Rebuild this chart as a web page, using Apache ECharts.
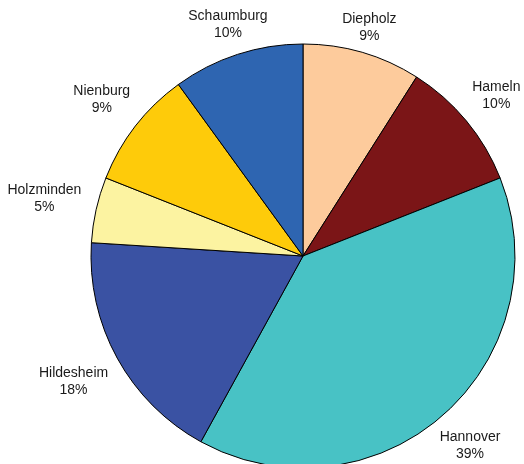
<!DOCTYPE html>
<html>
<head>
<meta charset="utf-8">
<script src="https://cdn.jsdelivr.net/npm/echarts@6/dist/echarts.min.js"></script>
<style>
  html, body { margin: 0; padding: 0; background: #ffffff; }
  #chart { width: 524px; height: 464px; }
</style>
</head>
<body>
<div id="chart"></div>
<script>
// District shares (percent), clockwise from 12 o'clock
const districts = ['Diepholz', 'Hameln', 'Hannover', 'Hildesheim', 'Holzminden', 'Nienburg', 'Schaumburg'];
const shares = [9, 10, 39, 18, 5, 9, 10];
const colors = ['#FDCB9C', '#7B1517', '#48C2C5', '#3A52A3', '#FCF3A1', '#FECB0A', '#2E65B1'];

const center = [303, 256];
const radius = 212;

// mid-angle of each slice, radians clockwise from 12 o'clock
const total = shares.reduce((a, b) => a + b, 0);
const midAngles = [];
let acc = 0;
shares.forEach(v => {
  midAngles.push((acc + v / 2) / total * 2 * Math.PI);
  acc += v;
});

const chart = echarts.init(document.getElementById('chart'), null, { renderer: 'canvas' });
chart.setOption({
  animation: false,
  backgroundColor: '#ffffff',
  series: [
    {
      type: 'pie',
      center: center,
      radius: [0, radius],
      startAngle: 90,
      clockwise: true,
      silent: true,
      data: districts.map((name, i) => ({ name, value: shares[i], itemStyle: { color: colors[i] } })),
      itemStyle: { borderColor: '#000000', borderWidth: 1 },
      label: {
        show: true,
        position: 'inside',
        formatter: p => p.name + '\n' + p.value + '%',
        fontFamily: 'Liberation Sans, Arial, sans-serif',
        fontSize: 14,
        lineHeight: 17,
        color: '#1a1a1a'
      },
      labelLine: { show: false },
      // put each label's box just outside the rim, along the slice's mid-angle
      labelLayout: function (params) {
        const a = midAngles[params.dataIndex];
        const s = Math.sin(a), c = Math.cos(a);
        const w = params.labelRect.width, h = params.labelRect.height;
        const gap = 14 * Math.abs(s) - 2 * Math.abs(c);
        const r = radius + gap + (w / 2) * Math.abs(s) + (h / 2) * Math.abs(c);
        return {
          x: center[0] + r * s,
          y: center[1] - r * c,
          align: 'center',
          verticalAlign: 'middle'
        };
      }
    }
  ]
});
</script>
</body>
</html>
